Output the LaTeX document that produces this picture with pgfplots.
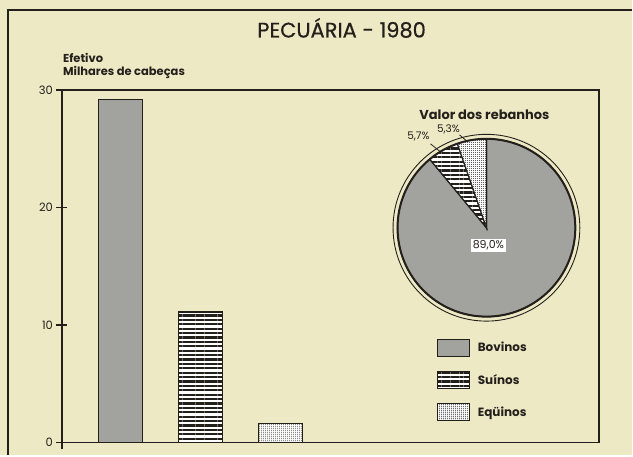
\documentclass[border=0pt]{standalone}
\usepackage{pgfplots}
\pgfplotsset{compat=1.18}
\usepackage{pgfplotstable}
\usetikzlibrary{patterns.meta}
\usepackage{fontspec}
\setmainfont{Poppins}
\definecolor{paper}{RGB}{238,233,197}
\definecolor{ink}{RGB}{35,32,28}
\definecolor{boi}{RGB}{162,162,158}
\definecolor{dotc}{RGB}{80,80,78}

\pgfplotstableread{
x y
1 29.2
}\bovinos
\pgfplotstableread{
x y
2 11.1
}\suinos
\pgfplotstableread{
x y
3 1.6
}\equinos
\pgfplotstableread{
cat val
Bovinos 89.0
Suinos 5.7
Equinos 5.3
}\pietab

\pgfplotsset{legbox/.style={legend image code/.code={\draw[##1] (0pt,-8.5pt) rectangle (32pt,8.5pt); \path (39pt,0pt);}}}

\begin{document}
\begin{tikzpicture}[x=1pt,y=1pt]
\fill[paper] (0,0) rectangle (633,456);
\draw[ink, line width=1.5pt] (8,0) -- (8,446) -- (633,446);
\node[font=\fontsize{21}{21}\selectfont\addfontfeatures{FakeBold=0.6}, text=ink] at (342,428) {PECUÁRIA - 1980};
\node[anchor=west, inner sep=0pt, font=\fontsize{11.5}{11.5}\selectfont\bfseries, text=ink] at (63,398) {Efetivo};
\node[anchor=west, inner sep=0pt, font=\fontsize{11.5}{11.5}\selectfont\bfseries, text=ink] at (63,383) {Milhares de cabeças};

\begin{axis}[
  at={(62pt,13pt)}, anchor=south west, scale only axis,
  width=538pt, height=353pt,
  xmin=0.2625, xmax=6.9875, ymin=0, ymax=30,
  axis line style={ink, line width=1.6pt},
  xtick=\empty, ytick={0,10,20,30},
  ytick pos=left, tick align=center,
  major tick length=11pt,
  tick style={ink, line width=1.4pt},
  yticklabel style={font=\fontsize{11.5}{11.5}\selectfont, text=ink},
  /pgf/number format/assume math mode=true,
  clip=false,
  legend style={at={(0.697,0.2946)}, anchor=north west, draw=none, fill=none,
    inner sep=0pt, row sep=14pt, font=\fontsize{12}{12}\selectfont\bfseries,
    text=ink, nodes={inner sep=1pt}},
  legend cell align=left,
]
\addplot[ybar, bar width=44pt, draw=ink, line width=1.2pt, fill=boi, legbox] table {\bovinos};
\addlegendentry{Bovinos}
\addplot[ybar, bar width=44pt, draw=ink, line width=1.2pt, fill=white,
  postaction={pattern={Lines[angle=0,distance=4.4pt,line width=2.2pt]}, pattern color=ink}, legbox] table {\suinos};
\addlegendentry{Suínos}
\addplot[ybar, bar width=44pt, draw=ink, line width=1.2pt, fill=white,
  postaction={pattern={Dots[distance=2pt,radius=0.55pt]}, pattern color=dotc}, legbox] table {\equinos};
\addlegendentry{Eqüinos}
\draw[ink, line width=1.6pt] (axis cs:0.2625,0) -- ++(0pt,-7pt);
\end{axis}

% pie from table values
\pgfplotstablegetelem{0}{val}\of\pietab \let\vb\pgfplotsretval
\pgfplotstablegetelem{1}{val}\of\pietab \let\vs\pgfplotsretval
\pgfplotstablegetelem{2}{val}\of\pietab \let\ve\pgfplotsretval
\pgfmathsetmacro\aA{90}
\pgfmathsetmacro\aB{90+3.6*\ve}
\pgfmathsetmacro\aC{\aB+3.6*\vs}
\pgfmathsetmacro\aD{\aC+3.6*\vb}
\def\R{89}
\draw[ink, line width=0.9pt] (487,228) circle (93.5);
\filldraw[fill=boi, draw=ink, line width=1.2pt] (487,228) -- ++(\aC:\R) arc[start angle=\aC, end angle=\aD, radius=\R] -- cycle;
\filldraw[fill=white, draw=ink, line width=1.2pt, postaction={pattern={Lines[angle=0,distance=4.4pt,line width=2.2pt]}, pattern color=ink}] (487,228) -- ++(\aB:\R) arc[start angle=\aB, end angle=\aC, radius=\R] -- cycle;
\filldraw[fill=white, draw=ink, line width=1.2pt, postaction={pattern={Dots[distance=2pt,radius=0.55pt]}, pattern color=dotc}] (487,228) -- ++(\aA:\R) arc[start angle=\aA, end angle=\aB, radius=\R] -- cycle;
\draw[ink, line width=2pt] (487,228) circle (\R);

\node[font=\fontsize{13}{13}\selectfont\bfseries, text=ink] at (485,341) {Valor dos rebanhos};
\node[fill=white, inner sep=1.5pt, font=\fontsize{11}{11}\selectfont, text=ink] at (489,210) {89,0\%};
\node[font=\fontsize{10.5}{10.5}\selectfont, text=ink, inner sep=0pt] at (419,319) {5,7\%};
\node[font=\fontsize{10.5}{10.5}\selectfont, text=ink, inner sep=0pt] at (449,326) {5,3\%};
\draw[ink, line width=0.8pt] (431,312) -- (441,304);
\draw[ink, line width=0.8pt] (460,321) -- (467,315);
\end{tikzpicture}
\end{document}
